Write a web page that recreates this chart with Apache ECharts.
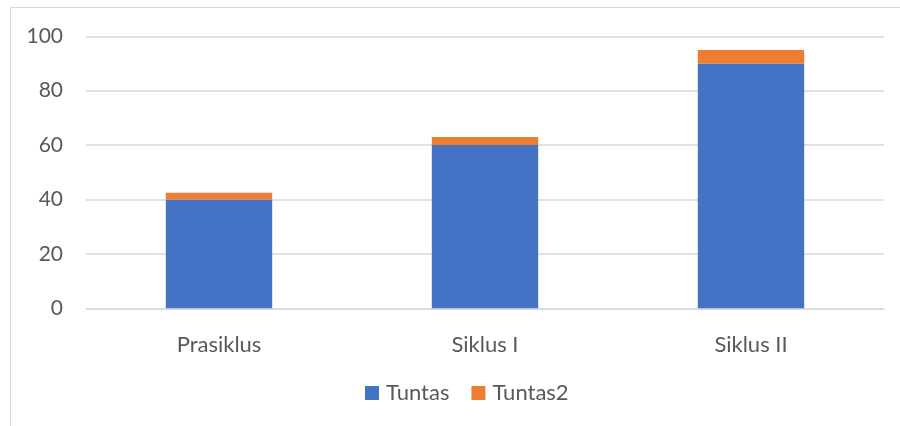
<!DOCTYPE html>
<html>
<head>
<meta charset="utf-8">
<script src="https://cdn.jsdelivr.net/npm/echarts@6/dist/echarts.min.js"></script>
<style>html,body{margin:0;padding:0;background:#fff}#c{width:900px;height:426px}</style>
</head>
<body>
<div id="c"></div>
<script>
var categories = ['Prasiklus', 'Siklus I', 'Siklus II'];
var tuntas = [40, 60, 90];
var tuntas2 = [2.5, 3, 5];
var yTicks = [0, 20, 40, 60, 80, 100];

var FONT = 'Lato';
var TXT = '#595959';
var chart = echarts.init(document.getElementById('c'), null, {renderer: 'canvas'});
chart.setOption({
  animation: false,
  backgroundColor: '#fff',
  textStyle: {fontFamily: FONT},
  graphic: [{
    type: 'rect', silent: true,
    shape: {x: 10.5, y: 7.5, width: 1000, height: 1000},
    style: {fill: 'none', stroke: '#d9d9d9', lineWidth: 1}
  }],
  grid: {left: 86, right: 16, top: 36.3, bottom: 117.7, containLabel: false},
  legend: {
    data: ['Tuntas', 'Tuntas2'],
    bottom: 17, left: 360,
    icon: 'rect', itemWidth: 14, itemHeight: 14, itemGap: 22,
    textStyle: {color: TXT, fontSize: 22, fontFamily: FONT, padding: [0, 0, 0, 2]}
  },
  xAxis: {
    type: 'category', data: categories,
    axisLine: {show: true, lineStyle: {color: '#d9d9d9', width: 1.5}},
    axisTick: {show: false},
    axisLabel: {color: TXT, fontSize: 22, fontFamily: FONT, margin: 26}
  },
  yAxis: {
    type: 'value', min: yTicks[0], max: yTicks[yTicks.length - 1], interval: 20,
    axisLine: {show: false}, axisTick: {show: false},
    axisLabel: {color: TXT, fontSize: 21, fontFamily: FONT, margin: 23},
    splitLine: {lineStyle: {color: '#d9d9d9', width: 1.5}}
  },
  series: [
    {name: 'Tuntas', type: 'bar', stack: 's', data: tuntas, barCategoryGap: '60%',
     itemStyle: {color: '#4472c4'}},
    {name: 'Tuntas2', type: 'bar', stack: 's', data: tuntas2, barCategoryGap: '60%',
     itemStyle: {color: '#ed7d31'}}
  ]
});
</script>
</body>
</html>
